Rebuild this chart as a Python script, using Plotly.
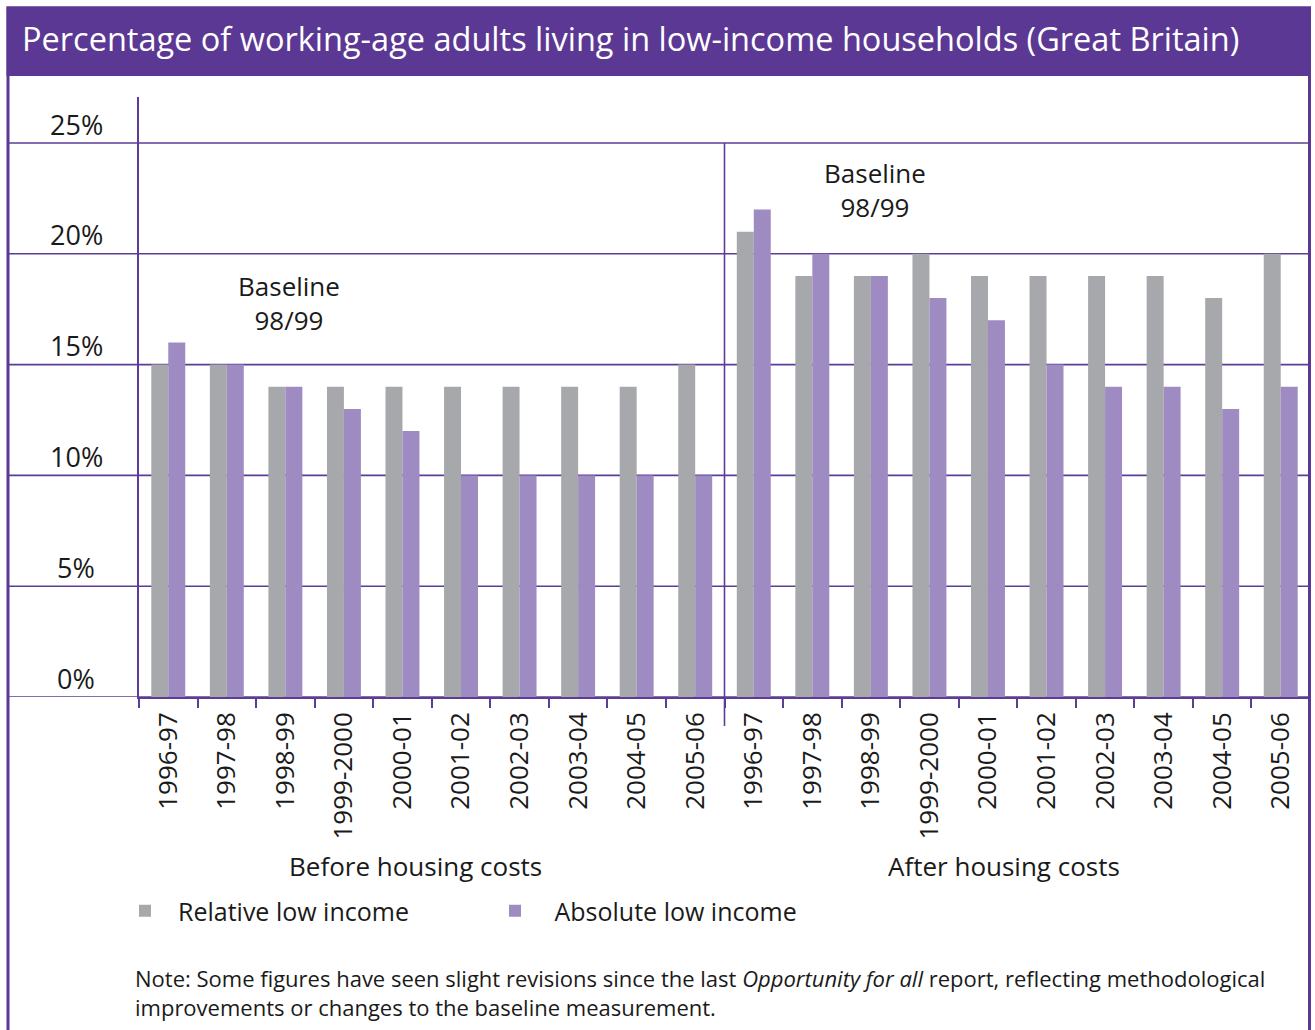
import plotly.graph_objects as go

# ---- data -------------------------------------------------------------
years = ["1996-97", "1997-98", "1998-99", "1999-2000", "2000-01",
         "2001-02", "2002-03", "2003-04", "2004-05", "2005-06"]
panels = ["Before housing costs", "After housing costs"]

relative_bhc = [15, 15, 14, 14, 14, 14, 14, 14, 14, 15]
absolute_bhc = [16, 15, 14, 13, 12, 10, 10, 10, 10, 10]
relative_ahc = [21, 19, 19, 20, 19, 19, 19, 19, 18, 20]
absolute_ahc = [22, 20, 19, 18, 17, 15, 14, 14, 13, 14]

y_ticks = [0, 5, 10, 15, 20, 25]
baseline_year = "1998-99"

# ---- layout geometry (pixels) -----------------------------------------
W, H = 1315, 1030
L, R, T, B = 139, 1310, 97, 697
PURPLE = "#5b3893"
GRID = "#5d3c98"
GREY_BAR = "#a7a8ab"
PURPLE_BAR = "#9d8bc2"
INK = "#1a1a1a"
FONT = "Open Sans"
NBSP = "\u00a0"


def px_x(x):
    return (x - L) / (R - L)


def px_y(y):
    return (B - y) / (B - T)


labels = years + years
xpos = list(range(len(labels)))
relative = relative_bhc + relative_ahc
absolute = absolute_bhc + absolute_ahc

fig = go.Figure()
fig.add_trace(go.Bar(x=xpos, y=relative, name=NBSP * 2 + "Relative low income",
                     marker=dict(color=GREY_BAR, line=dict(width=0))))
fig.add_trace(go.Bar(x=xpos, y=absolute, name=NBSP * 3 + "Absolute low income",
                     marker=dict(color=PURPLE_BAR, line=dict(width=0))))

y_top = (B - T) / ((B - 143) / 25)

shapes = []
# horizontal rules across the whole panel
for v in y_ticks:
    shapes.append(dict(type="line", xref="paper", yref="y",
                       x0=px_x(8), x1=1, y0=v, y1=v,
                       line=dict(color=GRID, width=1.6), layer="below"))
# divider between the two panels
shapes.append(dict(type="line", xref="x", yref="paper",
                   x0=len(years) - 0.5, x1=len(years) - 0.5,
                   y0=px_y(726), y1=px_y(143),
                   line=dict(color=GRID, width=1.6), layer="below"))
# outer frame and title band
shapes.append(dict(type="rect", xref="paper", yref="paper",
                   x0=px_x(8), x1=px_x(1309.5), y0=px_y(1080), y1=px_y(8),
                   line=dict(color=PURPLE, width=3), fillcolor="rgba(0,0,0,0)"))
shapes.append(dict(type="rect", xref="paper", yref="paper",
                   x0=px_x(6.5), x1=px_x(1311), y0=px_y(76), y1=px_y(6.5),
                   line=dict(width=0), fillcolor=PURPLE))

annotations = []
for v in y_ticks:
    annotations.append(dict(text=f"{v}%", xref="paper", yref="y",
                            x=px_x(76), y=v, yshift=19,
                            xanchor="center", yanchor="middle",
                            showarrow=False,
                            font=dict(family=FONT, size=27, color=INK)))

# "Baseline 98/99" markers above the 1998-99 bars of each panel
base_idx = years.index(baseline_year)
for i, v in ((base_idx, 17.8), (base_idx + len(years), 22.9)):
    annotations.append(dict(text="Baseline<br>98/99", x=i + 0.07, y=v,
                            xref="x", yref="y", showarrow=False,
                            xanchor="center", yanchor="middle",
                            font=dict(family=FONT, size=26, color=INK)))

for name, cx in zip(panels, (415, 1004)):
    annotations.append(dict(text=name, xref="paper", yref="paper",
                            x=px_x(cx), y=px_y(866), showarrow=False,
                            xanchor="center", yanchor="middle",
                            font=dict(family=FONT, size=26, color=INK)))

annotations.append(dict(
    text=("Note: Some figures have seen slight revisions since the last "
          "<i>Opportunity for all</i> report, reflecting methodological<br>"
          "improvements or changes to the baseline measurement."),
    xref="paper", yref="paper", x=px_x(133), y=px_y(992),
    xanchor="left", yanchor="middle", align="left", showarrow=False,
    font=dict(family=FONT, size=22, color=INK)))

fig.update_layout(
    width=W, height=H,
    margin=dict(l=L, r=W - R, t=T, b=H - B, pad=0),
    paper_bgcolor="white", plot_bgcolor="white",
    barmode="group", bargap=0.42, bargroupgap=0,
    title=dict(text="Percentage of working-age adults living in low-income households (Great Britain)",
               xref="container", yref="container",
               x=22 / W, y=1 - 40 / H, xanchor="left", yanchor="middle",
               font=dict(family=FONT, size=32.5, color="white")),
    showlegend=True,
    legend=dict(orientation="h", x=px_x(125), y=px_y(911),
                xanchor="left", yanchor="middle",
                font=dict(family=FONT, size=25, color=INK),
                entrywidth=325, entrywidthmode="pixels",
                bgcolor="rgba(0,0,0,0)"),
    shapes=shapes, annotations=annotations,
)

fig.update_xaxes(
    range=[-0.5, len(labels) - 0.5],
    tickmode="array", tickvals=xpos, ticktext=labels, tickangle=-90,
    ticks="", ticklabelstandoff=3,
    tickfont=dict(family=FONT, size=26, color=INK),
    showline=True, linecolor=GRID, linewidth=1.6,
    showgrid=False, zeroline=False,
    minor=dict(tickmode="linear", tick0=-0.5, dtick=1, ticks="outside",
               ticklen=9, tickwidth=1.6, tickcolor=GRID, showgrid=False),
)
fig.update_yaxes(
    range=[0, y_top], showticklabels=False, ticks="",
    showline=True, linecolor=GRID, linewidth=1.6,
    showgrid=False, zeroline=False,
)

fig.write_html("out.html")
